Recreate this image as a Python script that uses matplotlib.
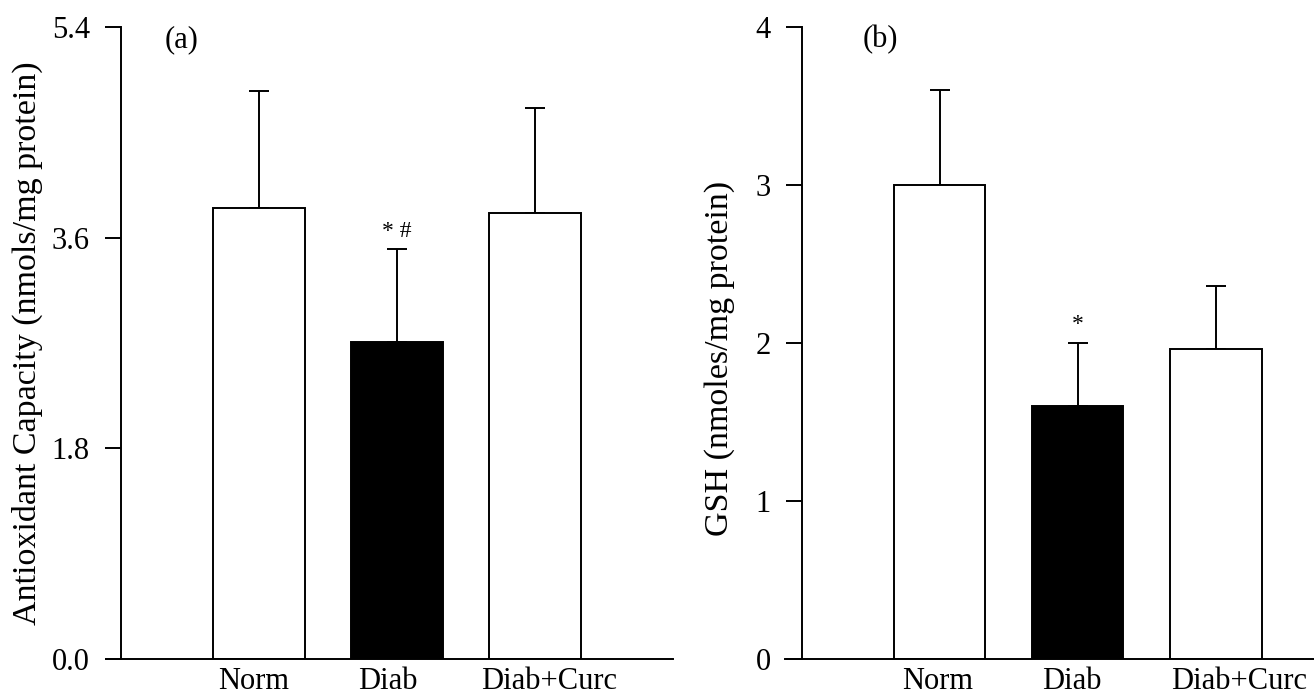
import matplotlib
matplotlib.use("Agg")
import matplotlib.pyplot as plt

plt.rcParams['font.family'] = ['Liberation Serif', 'DejaVu Serif']

groups = ['Norm', 'Diab', 'Diab+Curc']
colors = ['white', 'black', 'white']

# panel (a) antioxidant capacity
tac_mean = [3.85, 2.71, 3.81]
tac_err = [1.00, 0.79, 0.90]
tac_ticks = [0.0, 1.8, 3.6, 5.4]

# panel (b) GSH
gsh_mean = [3.0, 1.6, 1.96]
gsh_err = [0.6, 0.4, 0.40]
gsh_ticks = [0, 1, 2, 3, 4]

W, H = 1314, 694
fig = plt.figure(figsize=(W / 100, H / 100), dpi=100)


def panel(rect, spine_px, xlim, width, means, errs, ticks, ticklabels, ylabel, tag, marks, lab_shift):
    ax = fig.add_axes([rect[0] / W, 1 - rect[3] / H, (rect[2] - rect[0]) / W, (rect[3] - rect[1]) / H])
    x = list(range(len(groups)))
    ax.bar(x, means, width=width, color=colors, edgecolor='black', linewidth=1.4, zorder=2)
    ax.errorbar(x, means, yerr=[[0] * len(errs), errs], fmt='none', ecolor='black',
                elinewidth=1.4, capsize=7.5, capthick=1.4, zorder=1)
    ax.set_xlim(*xlim)
    ax.set_ylim(ticks[0], ticks[-1])
    ax.set_yticks(ticks)
    ax.set_yticklabels(ticklabels)
    # group labels sit slightly off the bar centres in the original
    ax.set_xticks([i + s for i, s in zip(x, lab_shift)])
    ax.set_xticklabels(groups)
    ax.spines['top'].set_visible(False)
    ax.spines['right'].set_visible(False)
    ax.spines['left'].set_position(('axes', (spine_px - rect[0]) / (rect[2] - rect[0])))
    for s in ('left', 'bottom'):
        ax.spines[s].set_linewidth(1.4)
    ax.tick_params(axis='y', direction='out', length=11.5, width=1.4, labelsize=22, pad=11)
    ax.tick_params(axis='x', length=0, labelsize=22, pad=6)
    ax.set_ylabel(ylabel, fontsize=24.5)
    ax.text((tag[0] - rect[0]) / (rect[2] - rect[0]), (rect[3] - tag[1]) / (rect[3] - rect[1]),
            tag[2], fontsize=22, ha='center', va='center', transform=ax.transAxes)
    for i, txt in marks:
        ax.text(i, means[i] + errs[i] + (ticks[-1] - ticks[0]) * 0.012, txt,
                ha='center', va='bottom', fontsize=17)
    return ax


ax1 = panel((106, 27, 673, 659), 121, (-1.11, 3.0), 0.665,
            tac_mean, tac_err, tac_ticks, ['0.0', '1.8', '3.6', '5.4'],
            'Antioxidant Capacity (nmols/mg protein)', (182, 40, '(a)'),
            [(1, '* #')], [-0.04, -0.065, 0.10])
ax1.yaxis.set_label_coords((43 - 106) / (673 - 106), 0.5)

ax2 = panel((785, 27, 1314, 659), 802, (-1.12, 2.71), 0.66,
            gsh_mean, gsh_err, gsh_ticks, [str(t) for t in gsh_ticks],
            'GSH (nmoles/mg protein)', (880, 40, '(b)'),
            [(1, '*')], [-0.015, -0.04, 0.17])
ax2.yaxis.set_label_coords((735 - 785) / (1314 - 785), 0.475)

fig.savefig('out.png', dpi=100)
